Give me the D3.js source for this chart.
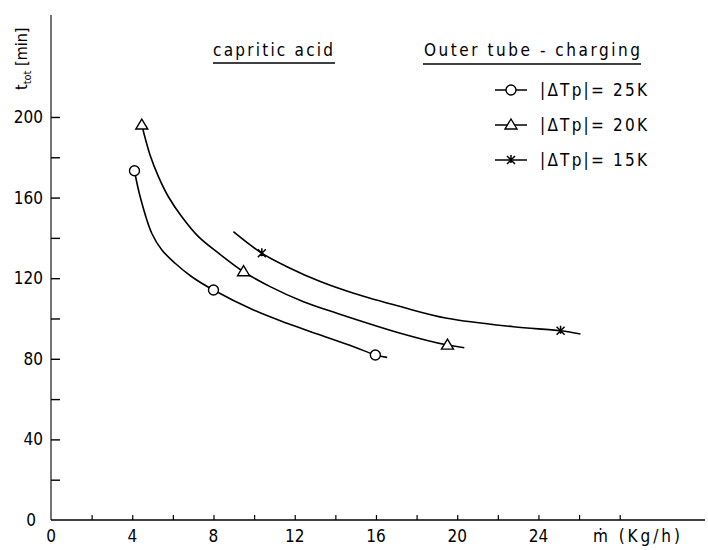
<!DOCTYPE html>
<html>
<head>
<meta charset="utf-8">
<script src="https://cdn.jsdelivr.net/npm/d3@7"></script>
<style>
  body { margin: 0; background: #fff; }
  svg { font-family: "DejaVu Sans Condensed", "DejaVu Sans", sans-serif; }
</style>
</head>
<body>
<svg width="708" height="550"></svg>
<script>

// curve points (m in kg/h, t in min)
const curve25 = [[4.11,173.3],[4.39,160.4],[4.96,142.3],[5.46,134.0],[6.11,127.4],[6.93,120.7],[8.0,114.1],[9.97,104.2],[11.62,97.6],[13.26,91.8],[14.9,86.0],[15.97,81.9],[16.55,80.7]];
const curve20 = [[4.47,196.0],[4.88,181.0],[5.29,170.4],[5.78,160.4],[6.44,150.5],[7.26,140.6],[8.25,132.4],[9.48,123.2],[10.79,115.8],[12.43,108.3],[14.08,102.6],[17.2,92.7],[19.52,86.8],[20.35,85.5]];
const curve15 = [[8.98,143.1],[10.38,132.4],[11.62,125.7],[13.26,118.3],[14.9,112.5],[17.2,105.9],[19.5,100.1],[22.77,95.9],[25.09,93.9],[26.07,92.3]];

// measured points (markers)
const points25 = [[4.11,173.3],[8.0,114.1],[15.97,81.9]];
const points20 = [[4.47,196.0],[9.48,123.2],[19.52,86.8]];
const points15 = [[10.38,132.4],[25.09,93.9]];

const legendLabels = ['|ΔTp|= 25K', '|ΔTp|= 20K', '|ΔTp|= 15K'];
const xTickLabels = [0, 4, 8, 12, 16, 20, 24];
const yTickLabels = [0, 40, 80, 120, 160, 200];

const svg = d3.select('svg');

const x = d3.scaleLinear().domain([0, 32.2]).range([51, 705]);
const y = d3.scaleLinear().domain([0, 250.6]).range([520, 15]);

// axes: ticks point inward, labels drawn separately
const xAxis = d3.axisTop(x)
    .tickValues(d3.range(2, 29, 2))
    .tickSize(5)
    .tickFormat('');
const gx = svg.append('g').attr('transform', 'translate(0,520)').call(xAxis);
gx.select('.domain').attr('stroke-width', 1.6).attr('d', 'M51,0H705');
gx.selectAll('.tick line').attr('stroke-width', 1.2);

const yAxis = d3.axisRight(y)
    .tickValues(d3.range(20, 201, 20))
    .tickSize(9)
    .tickFormat('');
const gy = svg.append('g').attr('transform', 'translate(51,0)').call(yAxis);
gy.select('.domain').attr('stroke-width', 1.1).attr('d', 'M0,15V520');
gy.selectAll('.tick line').attr('stroke-width', 1.4);

svg.selectAll('.xlab')
    .data(xTickLabels)
    .enter()
    .append('text')
        .attr('x', d => x(d))
        .attr('y', 542)
        .attr('text-anchor', 'middle')
        .attr('font-size', 17)
        .text(d => d);

svg.selectAll('.ylab')
    .data(yTickLabels)
    .enter()
    .append('text')
        .attr('x', d => d === 0 ? 36 : 43)
        .attr('y', d => y(d) + 6)
        .attr('text-anchor', 'end')
        .attr('font-size', 17)
        .text(d => d);

svg.append('text')
    .attr('x', 593)
    .attr('y', 542)
    .attr('font-size', 17)
    .attr('textLength', 87)
    .text('ṁ (Kg/h)');

const ylab = svg.append('text')
    .attr('transform', 'translate(27,90) rotate(-90)')
    .attr('font-size', 16);
ylab.append('tspan').text('t');
ylab.append('tspan').attr('font-size', 11).attr('dy', 4).text('tot');
ylab.append('tspan').attr('dy', -4).text(' [min]');

// header texts
svg.append('text').attr('x', 213).attr('y', 56).attr('font-size', 17)
    .attr('textLength', 120).attr('lengthAdjust', 'spacing').text('capritic acid');
svg.append('line').attr('x1', 213).attr('x2', 335).attr('y1', 63).attr('y2', 63).attr('stroke', '#000').attr('stroke-width', 1.3);
svg.append('text').attr('x', 424).attr('y', 56).attr('font-size', 17)
    .attr('textLength', 216).attr('lengthAdjust', 'spacing').text('Outer tube - charging');
svg.append('line').attr('x1', 423).attr('x2', 641).attr('y1', 64).attr('y2', 64).attr('stroke', '#000').attr('stroke-width', 1.3);

// curves
const line = d3.line()
    .x(d => x(d[0]))
    .y(d => y(d[1]))
    .curve(d3.curveCatmullRom.alpha(0.5));

[curve25, curve20, curve15].forEach(c => {
    svg.append('path')
        .attr('d', line(c))
        .attr('fill', 'none')
        .attr('stroke', '#000')
        .attr('stroke-width', 1.6);
});

// marker shapes
const circleMark = g => g.append('circle').attr('r', 5).attr('fill', '#fff').attr('stroke', '#000').attr('stroke-width', 1.4);
const triMark = g => g.append('path').attr('d', 'M0,-6L6,4L-6,4Z').attr('fill', '#fff').attr('stroke', '#000').attr('stroke-width', 1.4);
const starMark = g => g.append('path').attr('d', 'M-4,-4L4,4M4,-4L-4,4M0,-5V3').attr('stroke', '#000').attr('stroke-width', 1.5);

const drawMarks = (pts, mark) => {
    pts.forEach(p => {
        const g = svg.append('g').attr('transform', `translate(${x(p[0])},${y(p[1])})`);
        mark(g);
    });
};
drawMarks(points25, circleMark);
drawMarks(points20, triMark);
drawMarks(points15, starMark);

// legend
const legendMarks = [circleMark, triMark, starMark];
legendLabels.forEach((lab, i) => {
    const ly = 90 + i * 35;
    svg.append('line').attr('x1', 495).attr('x2', 527).attr('y1', ly).attr('y2', ly).attr('stroke', '#000').attr('stroke-width', 1.5);
    const g = svg.append('g').attr('transform', `translate(511,${ly})`);
    legendMarks[i](g);
    svg.append('text').attr('x', 540).attr('y', ly + 6).attr('font-size', 17)
        .attr('textLength', 107).attr('lengthAdjust', 'spacing').text(lab);
});

</script>
</body>
</html>
